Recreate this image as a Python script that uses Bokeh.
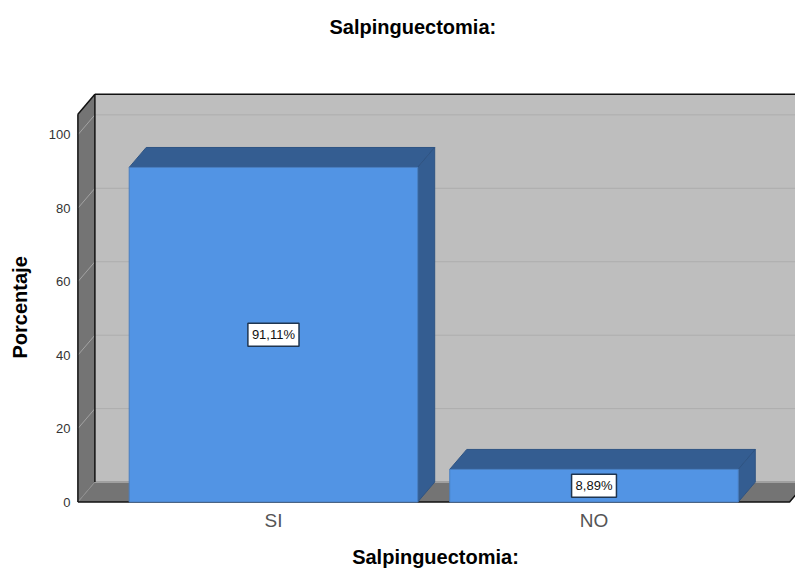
from bokeh.plotting import figure
from bokeh.models import Range1d, FixedTicker, Label, Title
from bokeh.embed import file_html
from bokeh.resources import INLINE

categories = ["SI", "NO"]
percent = [91.11, 8.89]
y_ticks = [0, 20, 40, 60, 80, 100]
title = "Salpinguectomia:"
y_title = "Porcentaje"

FONT = "Liberation Sans"
BAR_W = 0.9
DX = 0.053     # oblique depth, x units
DY = 5.42      # oblique depth, y units
X0, X1 = -0.61, 1.61
YTOP = 105.6

p = figure(width=795, height=571, output_backend="svg", toolbar_location=None,
           x_range=Range1d(-0.6175, 1.6285), y_range=Range1d(-0.68, 111.5),
           min_border_left=75, min_border_right=0, min_border_top=90, min_border_bottom=67,
           background_fill_color="white", border_fill_color="white", outline_line_color=None)
p.grid.visible = False

# walls and floor
p.patch([X0 + DX, X1 + DX, X1 + DX, X0 + DX], [DY, DY, YTOP + DY, YTOP + DY],
        fill_color="#BEBEBE", line_color=None)
p.patch([X0, X0 + DX, X0 + DX, X0], [0, DY, YTOP + DY, YTOP],
        fill_color="#747474", line_color=None)
p.patch([X0, X1, X1 + DX, X0 + DX], [0, 0, DY, DY],
        fill_color="#747474", line_color=None)

# grid lines
for t in y_ticks[1:]:
    p.line([X0, X0 + DX], [t, t + DY], line_color="#A3A3A3", line_width=1)
    p.line([X0 + DX, X1 + DX], [t + DY, t + DY], line_color="#ADADAD", line_width=1)
p.line([X0, X0 + DX], [0, DY], line_color="#8E8E8E", line_width=1)
p.line([X0 + DX, X1 + DX], [DY, DY], line_color="#A0A0A0", line_width=2)

# frame
p.line([X0 + DX, X1 + DX], [YTOP + DY, YTOP + DY], line_color="#111111", line_width=1.5)
p.line([X0, X0 + DX], [YTOP, YTOP + DY], line_color="#111111", line_width=1.5)
p.line([X0, X0], [0, YTOP], line_color="#111111", line_width=1.5)
p.line([X0 + DX, X0 + DX], [DY, YTOP + DY], line_color="#111111", line_width=1.5)
p.line([X0, X1, X1 + DX], [0, 0, DY], line_color="#111111", line_width=1.5)

# bars
for i, v in enumerate(percent):
    l, r = i - BAR_W / 2, i + BAR_W / 2
    p.patch([l, l + DX, r + DX, r], [v, v + DY, v + DY, v],
            fill_color="#345D91", line_color="#2F5483", line_width=1)
    p.patch([r, r + DX, r + DX, r], [0, DY, v + DY, v],
            fill_color="#345D91", line_color="#2F5483", line_width=1)
    p.quad(left=l, right=r, bottom=0, top=v,
           fill_color="#5294E4", line_color="#4A7FC0", line_width=1)
    p.add_layout(Label(x=i, y=v / 2, text=f"{v:.2f}%".replace(".", ","),
                       text_font=FONT, text_font_size="13px", text_color="#111111",
                       text_align="center", text_baseline="middle",
                       background_fill_color="white", border_line_color="#1F3550",
                       border_line_width=1.5, padding=4))

p.yaxis.ticker = FixedTicker(ticks=y_ticks)
p.yaxis.axis_line_color = None
p.yaxis.major_tick_line_color = None
p.yaxis.major_tick_out = 0
p.yaxis.major_tick_in = 0
p.yaxis.minor_tick_line_color = None
p.yaxis.major_label_standoff = 5
p.yaxis.major_label_text_font = FONT
p.yaxis.major_label_text_font_size = "13px"
p.yaxis.major_label_text_color = "#333333"

# blank spacer panel between the tick labels and the rotated title
p.add_layout(Title(text=" ", text_font=FONT, text_font_size="10px", standoff=0), "left")
p.add_layout(Title(text=y_title, text_font=FONT, text_font_size="20px", text_font_style="bold",
                   text_color="black", align="left", offset=146, standoff=4), "left")

p.xaxis.ticker = FixedTicker(ticks=list(range(len(categories))))
p.xaxis.major_label_overrides = {i: c for i, c in enumerate(categories)}
p.xaxis.axis_line_color = None
p.xaxis.major_tick_line_color = None
p.xaxis.major_tick_out = 0
p.xaxis.major_tick_in = 0
p.xaxis.minor_tick_line_color = None
p.xaxis.major_label_standoff = 5
p.xaxis.major_label_text_font = FONT
p.xaxis.major_label_text_font_size = "19px"
p.xaxis.major_label_text_color = "#555555"
p.xaxis.axis_label = title
p.xaxis.axis_label_text_font = FONT
p.xaxis.axis_label_text_font_size = "20px"
p.xaxis.axis_label_text_font_style = "bold"
p.xaxis.axis_label_text_color = "black"
p.xaxis.axis_label_standoff = 12

# blank spacer panel between the frame and the title
p.add_layout(Title(text=" ", text_font=FONT, text_font_size="20px", standoff=18), "above")
p.title.text = title
p.title.text_font = FONT
p.title.text_font_size = "20px"
p.title.text_font_style = "bold"
p.title.text_color = "black"
p.title.align = "left"
p.title.offset = 254
p.title.standoff = 26

open("out.html", "w").write(file_html(p, INLINE))
